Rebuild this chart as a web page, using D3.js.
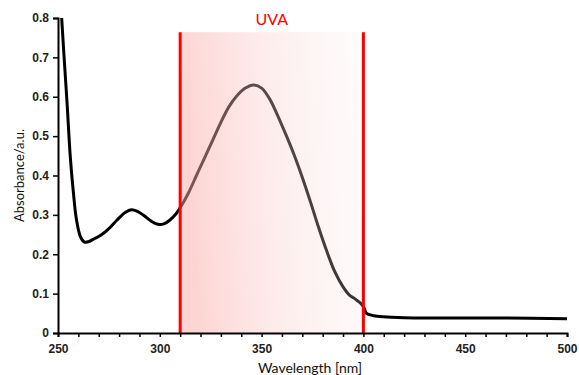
<!DOCTYPE html>
<html>
<head>
<meta charset="utf-8">
<script src="https://cdn.jsdelivr.net/npm/d3@7"></script>
<style>
  body { margin: 0; background: #fff; }
  svg { display: block; font-family: Lato, "Open Sans", sans-serif; }
  .tick text { font-weight: bold; fill: #222; }
</style>
</head>
<body>
<svg width="579" height="375"></svg>
<script>
// spectrum
var wavelength = [251.8, 253, 254.5, 256, 257.5, 259, 261, 263, 265, 268, 271, 275, 279, 283, 286, 289, 292, 296, 299, 302, 305, 308,
  310, 314, 318, 322, 326, 330, 334, 338, 342, 346, 350, 354, 358, 362, 366, 370, 374, 378, 382, 386, 390, 393, 396, 399,
  400.5, 401.5, 405, 410, 420, 440, 470, 500];
var absorbance = [0.80, 0.70, 0.58, 0.45, 0.36, 0.29, 0.245, 0.231, 0.232, 0.24, 0.248, 0.265, 0.287, 0.306, 0.313, 0.309, 0.299, 0.283, 0.276, 0.277, 0.287, 0.303,
  0.318, 0.355, 0.40, 0.445, 0.49, 0.535, 0.575, 0.603, 0.622, 0.63, 0.622, 0.594, 0.551, 0.503, 0.452, 0.395, 0.333, 0.268, 0.208, 0.155, 0.117, 0.097, 0.086, 0.074,
  0.062, 0.05, 0.044, 0.041, 0.039, 0.038, 0.038, 0.036];
var uvaRange = [310, 400];
var uvaTop = 0.764;
var xTicks = [250, 300, 350, 400, 450, 500];
var yTicks = [0, 0.1, 0.2, 0.3, 0.4, 0.5, 0.6, 0.7, 0.8];

main();

function main() {
  var svg = d3.select("svg"),
    margin = { top: 18, right: 12, bottom: 42, left: 58 },
    width = +svg.attr("width") - margin.left - margin.right,
    height = +svg.attr("height") - margin.top - margin.bottom;

  var x = d3.scaleLinear().domain([250, 500]).range([0, width]);
  var y = d3.scaleLinear().domain([0, 0.8]).range([height, 0]);

  var g = svg.append("g").attr("transform", "translate(" + margin.left + "," + margin.top + ")");

  var defs = svg.append("defs");
  var grad = defs.append("linearGradient").attr("id", "uva")
    .attr("x1", "0").attr("y1", "0.1").attr("x2", "1").attr("y2", "0");
  grad.append("stop").attr("offset", "0").attr("stop-color", "rgb(250,170,165)").attr("stop-opacity", 0.5);
  grad.append("stop").attr("offset", "0.5").attr("stop-color", "rgb(250,205,205)").attr("stop-opacity", 0.35);
  grad.append("stop").attr("offset", "1").attr("stop-color", "rgb(250,235,235)").attr("stop-opacity", 0.18);

  var pts = wavelength.map(function(w, i) { return [w, absorbance[i]]; });
  var line = d3.line()
    .x(function(d) { return x(d[0]); })
    .y(function(d) { return y(d[1]); })
    .curve(d3.curveCatmullRom.alpha(0.5));

  g.append("path")
    .datum(pts)
    .attr("fill", "none")
    .attr("stroke", "#000")
    .attr("stroke-width", 3)
    .attr("stroke-linejoin", "round")
    .attr("d", line);

  // shaded UVA band over the curve
  g.append("rect")
    .attr("x", x(uvaRange[0]))
    .attr("y", y(uvaTop))
    .attr("width", x(uvaRange[1]) - x(uvaRange[0]))
    .attr("height", y(0) - y(uvaTop))
    .attr("fill", "url(#uva)");

  g.selectAll(".uvaline")
    .data(uvaRange)
    .enter()
    .append("line")
    .attr("class", "uvaline")
    .attr("x1", function(d) { return x(d); })
    .attr("x2", function(d) { return x(d); })
    .attr("y1", y(uvaTop))
    .attr("y2", y(0))
    .attr("stroke", "#ff0000")
    .attr("stroke-width", 3);

  g.append("text")
    .attr("x", x((uvaRange[0] + uvaRange[1]) / 2))
    .attr("y", 7)
    .attr("text-anchor", "middle")
    .attr("fill", "#ff0000")
    .style("font-size", "16px")
    .text("UVA");

  // axes
  var xAxis = g.append("g")
    .attr("transform", "translate(0," + height + ")")
    .call(d3.axisBottom(x).tickValues(d3.range(250, 501, 10)).tickSize(4)
      .tickFormat(function(d) { return xTicks.indexOf(d) >= 0 ? d : ""; }));
  xAxis.selectAll("text").style("font-size", "12px").attr("dy", "1.1em");

  var yAxis = g.append("g")
    .call(d3.axisLeft(y).tickValues(yTicks).tickSize(5)
      .tickFormat(function(d) { return d === 0 ? "0" : d3.format(".1f")(d); }));
  yAxis.selectAll("text").style("font-size", "12px").attr("x", -9);

  svg.selectAll(".domain").attr("stroke", "#000").attr("stroke-width", 2);
  svg.selectAll(".tick line").attr("stroke", "#000").attr("stroke-width", 1.5);

  svg.append("text")
    .attr("transform", "translate(24," + (margin.top + height / 2) + ") rotate(-90)")
    .attr("text-anchor", "middle")
    .style("font-size", "13px")
    .attr("fill", "#111")
    .text("Absorbance/a.u.");

  svg.append("text")
    .attr("x", 310)
    .attr("y", 373)
    .attr("text-anchor", "middle")
    .style("font-size", "14px")
    .attr("fill", "#111")
    .text("Wavelength [nm]");
}
</script>
</body>
</html>
